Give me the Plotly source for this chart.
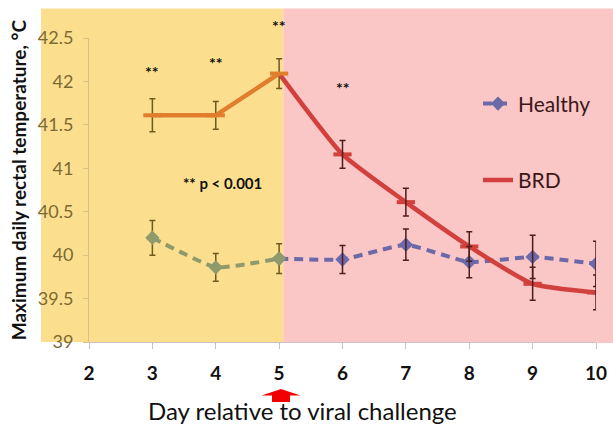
import plotly.graph_objects as go

# Maximum daily rectal temperature (°C) by day relative to viral challenge
days = [3, 4, 5, 6, 7, 8, 9, 10]
healthy = [40.20, 39.86, 39.96, 39.95, 40.12, 39.92, 39.98, 39.90]
healthy_err = [0.20, 0.16, 0.17, 0.16, 0.18, 0.18, 0.25, 0.26]
brd = [41.61, 41.61, 42.09, 41.16, 40.61, 40.10, 39.67, 39.57]
brd_err = [0.19, 0.16, 0.17, 0.16, 0.16, 0.17, 0.19, 0.20]

x_ticks = [2, 3, 4, 5, 6, 7, 8, 9, 10]
y_ticks = [39, 39.5, 40, 40.5, 41, 41.5, 42, 42.5]
x_range = [2, 10]
y_range = [39, 42.5]
challenge_day = 5

# significance markers: (day, temperature level, text)
stars = [(3, 42.12, "**"), (4, 42.22, "**"), (5, 42.64, "**"), (6, 41.93, "**")]

W, H = 613, 424
L, R, T, B = 89, 17, 37.5, 82
pw, ph = W - L - R, H - T - B


def px_x(p):
    return (p - L) / pw


def px_y(p):
    return (H - B - p) / ph


def day_to_paper(d):
    return (d - x_range[0]) / (x_range[1] - x_range[0])


def temp_to_paper(v):
    return (v - y_range[0]) / (y_range[1] - y_range[0])


pre = slice(0, 3)   # days 3-5, before challenge
post = slice(2, 8)  # days 5-10, after challenge

fig = go.Figure()

# post-challenge parts (drawn first so the day-5 point shows pre-challenge styling)
fig.add_trace(go.Scatter(
    x=days[post], y=healthy[post], mode="lines+markers", name="Healthy",
    legendgroup="healthy",
    line=dict(color="#6C69A8", width=4, dash="9px,6px", shape="spline", smoothing=0.4),
    marker=dict(symbol="diamond", size=11, color="#6C69A8"),
))
fig.add_trace(go.Scatter(
    x=days[post], y=brd[post], mode="lines", name="BRD", legendgroup="brd",
    line=dict(color="#D2403D", width=4.5, shape="spline", smoothing=0.5),
))
fig.add_trace(go.Scatter(
    x=days[3:], y=brd[3:], mode="markers", showlegend=False, legendgroup="brd",
    marker=dict(symbol="line-ew", size=13, line=dict(color="#D2403D", width=4)),
))
# post-challenge error bars
for vals, errs, grp in ((healthy, healthy_err, "healthy"), (brd, brd_err, "brd")):
    fig.add_trace(go.Scatter(
        x=days[3:], y=vals[3:], mode="markers", showlegend=False, legendgroup=grp,
        marker=dict(size=1, opacity=0),
        error_y=dict(type="data", array=errs[3:], color="#4A1E1E", thickness=1.5, width=3),
    ))

# pre-challenge parts
fig.add_trace(go.Scatter(
    x=days[pre], y=healthy[pre], mode="lines+markers", showlegend=False,
    legendgroup="healthy",
    line=dict(color="#8F9A6C", width=4, dash="9px,6px", shape="spline", smoothing=0.4),
    marker=dict(symbol="diamond", size=11, color="#8F9A6C"),
    error_y=dict(type="data", array=healthy_err[pre], color="#6E5A1C", thickness=1.5, width=3),
))
fig.add_trace(go.Scatter(
    x=days[pre], y=brd[pre], mode="lines+markers", showlegend=False, legendgroup="brd",
    line=dict(color="#E07E2E", width=4.5),
    marker=dict(symbol="line-ew", size=13, line=dict(color="#E07E2E", width=4)),
    error_y=dict(type="data", array=brd_err[pre], color="#6E5A1C", thickness=1.5, width=3),
))

# background panels: before / after challenge
split = day_to_paper(challenge_day + 0.066)
shapes = [
    dict(type="rect", xref="paper", yref="paper", x0=px_x(41), x1=split,
         y0=0, y1=px_y(8), fillcolor="#FBDF8E", line=dict(width=0), layer="below"),
    dict(type="rect", xref="paper", yref="paper", x0=split, x1=px_x(613),
         y0=px_y(343), y1=px_y(8), fillcolor="#FBC6C6", line=dict(width=0), layer="below"),
    # challenge arrow under day 5
    dict(type="path", xref="paper", yref="paper",
         path=(f"M {px_x(281)} {px_y(389)} L {px_x(300.5)} {px_y(395.5)} "
               f"L {px_x(290)} {px_y(395.5)} L {px_x(290)} {px_y(402)} "
               f"L {px_x(272)} {px_y(402)} L {px_x(272)} {px_y(395.5)} "
               f"L {px_x(261.5)} {px_y(395.5)} Z"),
         fillcolor="#F00000", line=dict(width=0)),
]

bold_dark = dict(family="Lato", color="#111111", weight="bold")
annotations = [
    dict(x=day_to_paper(d), y=temp_to_paper(v), xref="paper", yref="paper", text=t,
         showarrow=False, xanchor="center", yanchor="middle",
         font=dict(size=16, **bold_dark))
    for d, v, t in stars
]
annotations += [
    dict(x=px_x(222), y=px_y(183), xref="paper", yref="paper", text="** p < 0.001",
         xanchor="center", yanchor="middle", showarrow=False,
         font=dict(size=15, **bold_dark)),
    dict(x=px_x(18), y=px_y(180), xref="paper", yref="paper", textangle=-90,
         xanchor="center", yanchor="middle",
         text="Maximum daily rectal temperature, °C", showarrow=False,
         font=dict(size=19, **bold_dark)),
    dict(x=px_x(302), y=px_y(411), xref="paper", yref="paper",
         xanchor="center", yanchor="middle",
         text="Day relative to viral challenge", showarrow=False,
         font=dict(family="Lato", size=24, color="#111111")),
]

fig.update_layout(
    width=W, height=H,
    margin=dict(l=L, r=R, t=T, b=B, pad=0, autoexpand=False),
    paper_bgcolor="white", plot_bgcolor="rgba(0,0,0,0)",
    shapes=shapes, annotations=annotations,
    legend=dict(x=px_x(478), y=px_y(83), xanchor="left", yanchor="top",
                bgcolor="rgba(0,0,0,0)", tracegroupgap=46, traceorder="grouped",
                itemwidth=30,
                font=dict(family="Lato", size=21, color="#3A1818")),
    xaxis=dict(range=x_range, tickvals=x_ticks, showgrid=False, zeroline=False,
               showline=True, linecolor="#C9C2C2", linewidth=1,
               ticks="outside", ticklen=6, tickcolor="#C9C2C2",
               ticklabelstandoff=8,
               tickfont=dict(family="Lato", size=19, color="#111111", weight="bold")),
    yaxis=dict(range=y_range, tickvals=y_ticks, showgrid=False, zeroline=False,
               showline=True, linecolor="#D6C184", linewidth=1,
               ticks="outside", ticklen=5, tickcolor="#D6C184",
               ticklabelstandoff=6,
               tickfont=dict(family="Lato", size=18, color="#7C6A33")),
)

fig.write_html("out.html")
